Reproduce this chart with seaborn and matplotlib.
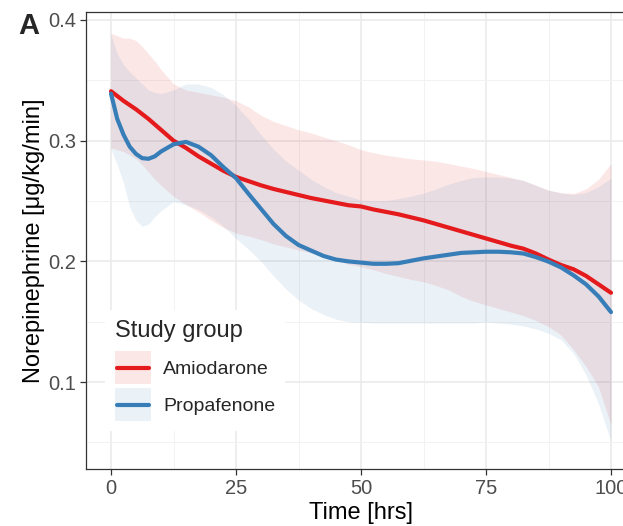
import numpy as np
import pandas as pd
import matplotlib
matplotlib.use("Agg")
import matplotlib.pyplot as plt
from matplotlib.patches import Patch
from matplotlib.lines import Line2D
from matplotlib.legend_handler import HandlerLine2D
from matplotlib.ticker import MultipleLocator
import seaborn as sns

# ---- data ----
time = [0, 1.25, 2.5, 3.75, 5, 6.25, 7.5, 8.75, 10, 12.5, 15, 17.5, 20, 22.5, 25, 27.5,
        30, 32.5, 35, 37.5, 40, 42.5, 45, 47.5, 50, 52.5, 55, 57.5, 60, 62.5, 65, 67.5,
        70, 72.5, 75, 77.5, 80, 82.5, 85, 87.5, 90, 92.5, 95, 97.5, 100]

amio_fit = [0.341, 0.337, 0.333, 0.3295, 0.326, 0.322, 0.318, 0.3135, 0.309, 0.300,
            0.294, 0.287, 0.281, 0.275, 0.270, 0.2665, 0.263, 0.260, 0.2575, 0.255,
            0.2525, 0.2505, 0.2485, 0.2465, 0.2455, 0.243, 0.241, 0.239, 0.2365, 0.234,
            0.231, 0.228, 0.225, 0.222, 0.219, 0.216, 0.213, 0.2105, 0.2065, 0.2015,
            0.197, 0.1935, 0.188, 0.181, 0.174]
amio_hi = [0.389, 0.387, 0.385, 0.385, 0.383, 0.378, 0.372, 0.366, 0.359, 0.347,
           0.342, 0.340, 0.338, 0.336, 0.333, 0.328, 0.321, 0.316, 0.3125, 0.309,
           0.3065, 0.303, 0.300, 0.2965, 0.2925, 0.290, 0.288, 0.2865, 0.285, 0.284,
           0.283, 0.281, 0.279, 0.277, 0.2745, 0.272, 0.2695, 0.267, 0.263, 0.259,
           0.257, 0.2562, 0.260, 0.268, 0.281]
amio_lo = [0.294, 0.2925, 0.291, 0.288, 0.285, 0.280, 0.274, 0.268, 0.263, 0.254,
           0.247, 0.241, 0.234, 0.228, 0.2235, 0.221, 0.218, 0.2145, 0.212, 0.2094,
           0.207, 0.204, 0.201, 0.1975, 0.1956, 0.193, 0.190, 0.1875, 0.185, 0.1832,
           0.180, 0.1765, 0.171, 0.167, 0.164, 0.161, 0.158, 0.155, 0.151, 0.146,
           0.139, 0.127, 0.113, 0.096, 0.0645]

prop_fit = [0.339, 0.318, 0.305, 0.295, 0.289, 0.2855, 0.285, 0.287, 0.291, 0.297,
            0.299, 0.295, 0.288, 0.278, 0.269, 0.256, 0.2435, 0.231, 0.221, 0.2136,
            0.209, 0.2045, 0.2015, 0.200, 0.199, 0.198, 0.198, 0.1985, 0.2005, 0.2025,
            0.204, 0.2055, 0.207, 0.2075, 0.208, 0.208, 0.2075, 0.2065, 0.2035, 0.1998,
            0.195, 0.1885, 0.181, 0.171, 0.158]
prop_hi = [0.388, 0.372, 0.363, 0.357, 0.352, 0.347, 0.342, 0.340, 0.339, 0.342,
           0.347, 0.347, 0.344, 0.338, 0.329, 0.318, 0.305, 0.293, 0.283, 0.2757,
           0.268, 0.262, 0.257, 0.254, 0.2508, 0.2505, 0.2505, 0.252, 0.254, 0.2566,
           0.260, 0.264, 0.267, 0.2695, 0.270, 0.270, 0.269, 0.267, 0.263, 0.259,
           0.2565, 0.2555, 0.257, 0.262, 0.2688]
prop_lo = [0.293, 0.280, 0.265, 0.245, 0.234, 0.229, 0.231, 0.237, 0.242, 0.2495,
           0.247, 0.243, 0.237, 0.229, 0.219, 0.210, 0.200, 0.188, 0.177, 0.168,
           0.161, 0.156, 0.152, 0.150, 0.1495, 0.149, 0.149, 0.149, 0.149, 0.149,
           0.149, 0.149, 0.149, 0.149, 0.1497, 0.149, 0.148, 0.1465, 0.144, 0.1404,
           0.135, 0.124, 0.106, 0.082, 0.0506]

groups = ["Amiodarone", "Propafenone"]
colors = {"Amiodarone": "#E41A1C", "Propafenone": "#377EB8"}

x_ticks = [0, 25, 50, 75, 100]
y_ticks = [0.1, 0.2, 0.3, 0.4]
y_tick_labels = ["0.1", "0.2", "0.3", "0.4"]

df = pd.DataFrame({
    "time": time * 2,
    "value": amio_fit + prop_fit,
    "group": ["Amiodarone"] * len(time) + ["Propafenone"] * len(time),
})
bands = {"Amiodarone": (amio_lo, amio_hi), "Propafenone": (prop_lo, prop_hi)}


class CenteredLine(HandlerLine2D):
    """Legend line centred vertically in the key box, slightly inset."""
    def create_artists(self, legend, orig_handle, xdescent, ydescent, width, height,
                       fontsize, trans):
        arts = super().create_artists(legend, orig_handle, xdescent, ydescent, width,
                                      height, fontsize, trans)
        for a in arts:
            if isinstance(a, Line2D):
                a.set_ydata(np.asarray(a.get_ydata(), dtype=float) - ydescent / 2.0)
                xd = np.asarray(a.get_xdata(), dtype=float)
                if len(xd) >= 2:
                    inset = 0.06 * width
                    a.set_xdata(np.array([xd.min() + inset, xd.max() - inset]))
                    a.set_ydata(np.full(2, np.asarray(a.get_ydata())[0]))
        return arts


# ---- style ----
sns.set_style("ticks")
plt.rcParams["font.family"] = ["Liberation Sans", "DejaVu Sans"]

fig = plt.figure(figsize=(6.23, 5.26), dpi=100)
ax = fig.add_axes([86 / 623, 57 / 526, 550 / 623, 457 / 526])

for g in groups:
    lo, hi = bands[g]
    ax.fill_between(time, lo, hi, color=colors[g], alpha=0.1, linewidth=0, zorder=2)

sns.lineplot(data=df, x="time", y="value", hue="group", hue_order=groups,
             palette=colors, linewidth=3, legend=False, ax=ax, zorder=3)

ax.set_xlim(-5, 105)
ax.set_ylim(0.028, 0.4066)
ax.set_xticks(x_ticks)
ax.set_yticks(y_ticks)
ax.set_yticklabels(y_tick_labels)
ax.xaxis.set_minor_locator(MultipleLocator(12.5))
ax.yaxis.set_minor_locator(MultipleLocator(0.05))
ax.grid(which="major", color="#EBEBEB", linewidth=1.2, zorder=0)
ax.grid(which="minor", color="#F2F2F2", linewidth=0.7, zorder=0)
ax.set_axisbelow(True)
ax.tick_params(which="major", length=4, width=0.9, color="#333333",
               labelsize=14.5, labelcolor="#4D4D4D", pad=3)
ax.tick_params(which="minor", length=0)
for s in ax.spines.values():
    s.set_color("#333333")
    s.set_linewidth(0.9)

ax.set_xlabel("Time [hrs]", fontsize=17, color="black", labelpad=3)
ax.set_ylabel("Norepinephrine [μg/kg/min]", fontsize=17, color="black", labelpad=2)

handles = [(Patch(facecolor=colors[g], alpha=0.1, edgecolor="none"),
            Line2D([], [], color=colors[g], linewidth=3)) for g in groups]
leg = ax.legend(handles, groups, title="Study group", loc="lower left",
                bbox_to_anchor=(0.0345, 0.083), borderaxespad=0, frameon=True,
                fontsize=14, title_fontsize=17, handlelength=1.85, handleheight=2.24,
                labelspacing=0.2, handletextpad=0.65, borderpad=0.5,
                handler_map={Line2D: CenteredLine()})
leg._legend_box.align = "left"
leg._legend_box.sep = 7
frame = leg.get_frame()
frame.set_facecolor("white")
frame.set_edgecolor("none")
frame.set_alpha(1)
leg.set_zorder(5)

fig.text(18 / 623, 1 - 12 / 526, "A", fontsize=21, fontweight="bold", va="top", ha="left")

fig.savefig("out.png", dpi=100)
